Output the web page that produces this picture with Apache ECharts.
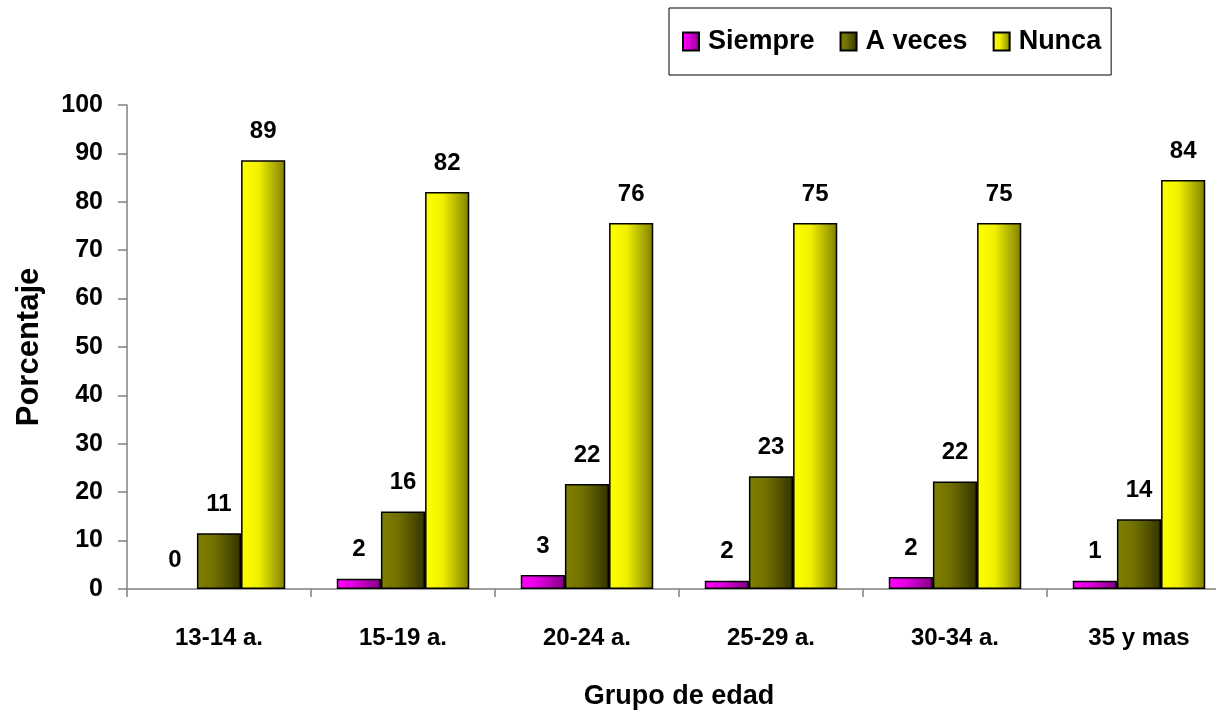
<!DOCTYPE html>
<html>
<head>
<meta charset="utf-8">
<script src="https://cdn.jsdelivr.net/npm/echarts@6/dist/echarts.min.js"></script>
<style>
html,body{margin:0;padding:0;background:#fff;}
#chart{width:1216px;height:713px;}
</style>
</head>
<body>
<div id="chart"></div>
<script>
const categories = ['13-14 a.', '15-19 a.', '20-24 a.', '25-29 a.', '30-34 a.', '35 y mas'];
const seriesNames = ['Siempre', 'A veces', 'Nunca'];
const siempre = [0, 2.1, 2.9, 1.7, 2.5, 1.7];
const aVeces = [11.5, 16.0, 21.7, 23.3, 22.2, 14.4];
const nunca = [88.6, 82.0, 75.6, 75.6, 75.6, 84.5];
const siempreLabels = ['0', '2', '3', '2', '2', '1'];
const aVecesLabels = ['11', '16', '22', '23', '22', '14'];
const nuncaLabels = ['89', '82', '76', '75', '75', '84'];
const yTicks = [0, 10, 20, 30, 40, 50, 60, 70, 80, 90, 100];

const FONT = '"Liberation Sans", Arial, sans-serif';

function grad(c1, c2, c3) {
  return new echarts.graphic.LinearGradient(0, 0, 1, 0, [
    {offset: 0, color: c1},
    {offset: 0.4, color: c2},
    {offset: 1, color: c3}
  ]);
}
const fills = [
  grad('#ff00ff', '#e000e0', '#800080'),
  grad('#808000', '#707000', '#333300'),
  grad('#ffff00', '#f0f000', '#808000')
];

function makeSeries(name, values, labels, idx) {
  return {
    name: name,
    type: 'bar',
    data: values.map(v => v === 0 ? {value: v, itemStyle: {borderWidth: 0}} : v),
    barGap: '0%',
    barCategoryGap: '28%',
    itemStyle: {color: fills[idx], borderColor: '#000', borderWidth: 1.5},
    label: {
      show: true,
      position: 'top',
      distance: 17,
      formatter: p => labels[p.dataIndex],
      color: '#000',
      fontFamily: FONT,
      fontWeight: 'bold',
      fontSize: 24
    },
    emphasis: {disabled: true},
    animation: false
  };
}

const chart = echarts.init(document.getElementById('chart'), null, {renderer: 'canvas'});
chart.setOption({
  backgroundColor: '#fff',
  animation: false,
  grid: {left: 127, right: -15, top: 105, bottom: 124, containLabel: false, outerBoundsMode: 'none'},
  legend: {
    data: seriesNames,
    left: 669,
    top: 8,
    orient: 'horizontal',
    icon: 'rect',
    borderColor: '#000',
    borderWidth: 1,
    padding: [20, 10, 20, 13],
    itemWidth: 16,
    itemHeight: 18,
    itemGap: 25,
    textStyle: {fontFamily: FONT, fontWeight: 'bold', fontSize: 27, color: '#000', padding: [0, 0, 0, 4]},
    selectedMode: false
  },
  xAxis: {
    type: 'category',
    data: categories,
    name: 'Grupo de edad',
    nameLocation: 'middle',
    nameGap: 94,
    nameTextStyle: {fontFamily: FONT, fontWeight: 'bold', fontSize: 27, color: '#000'},
    axisLine: {lineStyle: {color: '#808080', width: 1.5}},
    axisTick: {show: true, length: 8, inside: false, alignWithLabel: false, lineStyle: {color: '#808080', width: 1.5}},
    axisLabel: {margin: 37, fontFamily: FONT, fontWeight: 'bold', fontSize: 24, color: '#000'}
  },
  yAxis: {
    type: 'value',
    min: yTicks[0],
    max: yTicks[yTicks.length - 1],
    interval: yTicks[1] - yTicks[0],
    name: 'Porcentaje',
    nameLocation: 'middle',
    nameRotate: 90,
    nameGap: 82,
    nameTextStyle: {fontFamily: FONT, fontWeight: 'bold', fontSize: 31, color: '#000'},
    axisLine: {show: true, lineStyle: {color: '#808080', width: 1.5}},
    axisTick: {show: true, length: 9, inside: false, lineStyle: {color: '#808080', width: 1.5}},
    splitLine: {show: false},
    axisLabel: {margin: 24, fontFamily: FONT, fontWeight: 'bold', fontSize: 25, color: '#000'}
  },
  series: [
    makeSeries(seriesNames[0], siempre, siempreLabels, 0),
    makeSeries(seriesNames[1], aVeces, aVecesLabels, 1),
    makeSeries(seriesNames[2], nunca, nuncaLabels, 2)
  ]
});
</script>
</body>
</html>
